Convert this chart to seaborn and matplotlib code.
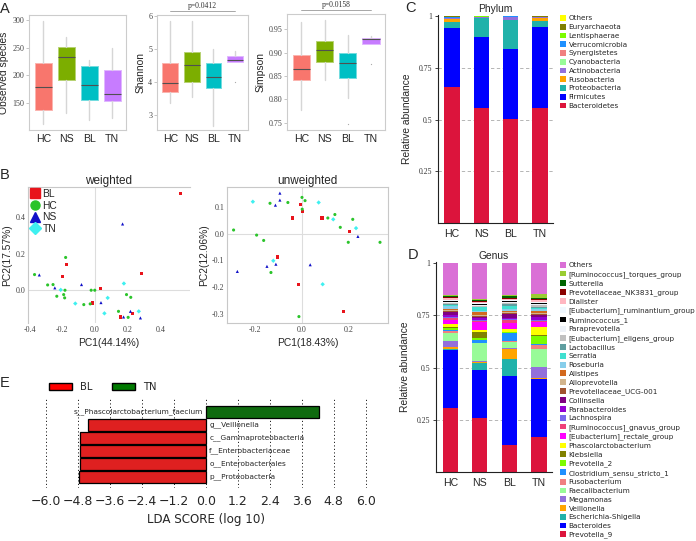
import numpy as np
import pandas as pd
import matplotlib
matplotlib.use('Agg')
import matplotlib.pyplot as plt
import matplotlib.colors as mcolors
from matplotlib.patches import Patch
from matplotlib.lines import Line2D
import seaborn as sns

sns.set_style('white')
plt.rcParams['font.family'] = ['Liberation Sans', 'DejaVu Sans']
SERIF = 'Liberation Serif'

# ---------------- data ----------------
groups = ['HC', 'NS', 'BL', 'TN']
box_colors = ['#F8766D', '#7CAE00', '#00BFC4', '#C77CFF']

obs_low = [112, 132, 119, 123]
obs_q1 = [138, 191, 156, 154]
obs_med = [179, 233, 183, 166]
obs_q3 = [222, 252, 217, 210]
obs_high = [299, 270, 227, 249]
obs_fliers = [[], [], [], []]

shannon_low = [3.38, 3.56, 2.68, 4.60]
shannon_q1 = [3.69, 3.99, 3.81, 4.60]
shannon_med = [3.97, 4.52, 4.14, 4.67]
shannon_q3 = [4.57, 4.92, 4.59, 4.78]
shannon_high = [5.84, 5.84, 5.00, 4.93]
shannon_fliers = [[], [], [], [4.0]]

simpson_low = [0.778, 0.841, 0.802, 0.918]
simpson_q1 = [0.841, 0.880, 0.846, 0.918]
simpson_med = [0.865, 0.906, 0.878, 0.929]
simpson_q3 = [0.896, 0.924, 0.899, 0.932]
simpson_high = [0.966, 0.970, 0.937, 0.935]
simpson_fliers = [[], [], [0.746], [0.875]]

pca_order = ['BL', 'HC', 'NS', 'TN']
pca_colors = {'BL': '#E8141C', 'HC': '#2BC42B', 'NS': '#1010C8', 'TN': '#3FF0F0'}
pca_markers = {'BL': 's', 'HC': 'o', 'NS': '^', 'TN': 'D'}

wt_group = ['BL'] * 8 + ['HC'] * 16 + ['NS'] * 8 + ['TN'] * 6
wt_pc1 = [0.523, -0.176, -0.198, 0.032, 0.281, -0.016, 0.154, 0.226,
          -0.180, -0.370, -0.290, -0.257, -0.184, -0.192, -0.234, -0.186,
          -0.024, -0.002, 0.192, 0.218, -0.069, -0.030, 0.143, 0.202,
          0.168, -0.341, -0.246, -0.083, 0.036, 0.174, 0.216, 0.277,
          -0.210, 0.176, 0.077, -0.121, 0.057, 0.267]
wt_pc2 = [0.533, 0.139, 0.075, 0.011, 0.090, -0.070, -0.147, -0.128,
          0.180, 0.086, 0.029, 0.031, 0.000, -0.024, -0.033, -0.042,
          0.000, 0.000, -0.024, -0.039, -0.079, -0.075, -0.116, -0.149,
          0.364, 0.084, 0.013, 0.031, -0.068, -0.147, -0.116, -0.152,
          0.002, 0.037, -0.042, -0.073, -0.127, -0.116]

uw_group = ['BL'] * 8 + ['HC'] * 16 + ['NS'] * 8 + ['TN'] * 6
uw_pc1 = [-0.006, 0.001, -0.040, 0.085, 0.204, -0.104, -0.013, 0.177,
          -0.136, -0.060, 0.000, 0.013, 0.001, 0.110, 0.140, 0.163,
          0.216, 0.197, 0.332, -0.291, -0.193, -0.163, -0.132, -0.013,
          -0.094, -0.094, -0.113, 0.238, -0.149, -0.111, -0.275, 0.035,
          -0.209, 0.071, 0.133, 0.230, -0.122, 0.088]
uw_pc2 = [0.111, 0.084, 0.059, 0.059, 0.009, -0.087, -0.191, -0.290,
          0.114, 0.117, 0.136, 0.124, 0.092, 0.059, 0.072, 0.024,
          0.054, -0.032, -0.032, 0.014, -0.005, -0.025, -0.145, -0.310,
          0.152, 0.126, 0.107, -0.010, -0.122, -0.114, -0.141, -0.116,
          0.120, 0.117, 0.054, 0.021, -0.101, -0.189]

# stacking order bottom -> top
phylum_names = ['Bacteroidetes', 'Firmicutes', 'Proteobacteria', 'Fusobacteria',
                'Actinobacteria', 'Cyanobacteria', 'Synergistetes', 'Verrucomicrobia',
                'Lentisphaerae', 'Euryarchaeota', 'Others']
phylum_colors = ['#DC143C', '#0000FF', '#20B2AA', '#FFA500', '#9370DB', '#98FB98',
                 '#F08080', '#1E90FF', '#7CFC00', '#808000', '#FFFF00']
phylum_hc = [0.657, 0.286, 0.030, 0.014, 0.003, 0.001, 0.001, 0.001, 0.001, 0.004, 0.002]
phylum_ns = [0.555, 0.343, 0.092, 0.002, 0.002, 0.001, 0.001, 0.001, 0.001, 0.001, 0.001]
phylum_bl = [0.503, 0.340, 0.136, 0.002, 0.014, 0.001, 0.001, 0.001, 0.001, 0.001, 0.000]
phylum_tn = [0.556, 0.393, 0.027, 0.016, 0.002, 0.001, 0.001, 0.001, 0.000, 0.001, 0.002]

genus_names = ['Prevotella_9', 'Bacteroides', 'Escherichia-Shigella', 'Veillonella',
               'Megamonas', 'Faecalibacterium', 'Fusobacterium',
               'Clostridium_sensu_stricto_1', 'Prevotella_2', 'Klebsiella',
               'Phascolarctobacterium', '[Eubacterium]_rectale_group',
               '[Ruminococcus]_gnavus_group', 'Lachnospira', 'Parabacteroides',
               'Collinsella', 'Prevotellaceae_UCG-001', 'Alloprevotella', 'Alistipes',
               'Roseburia', 'Serratia', 'Lactobacillus', '[Eubacterium]_eligens_group',
               'Paraprevotella', 'Ruminococcus_1', '[Eubacterium]_ruminantium_group',
               'Dialister', 'Prevotellaceae_NK3831_group', 'Sutterella',
               '[Ruminococcus]_torques_group', 'Others']
genus_colors = ['#DC143C', '#0000FF', '#20B2AA', '#FFA500', '#9370DB', '#98FB98',
                '#F08080', '#1E90FF', '#7CFC00', '#808000', '#FFFF00', '#FF00FF',
                '#F0407A', '#7B68EE', '#9400D3', '#800080', '#A0522D', '#D2B48C',
                '#D2691E', '#87CEEB', '#40E0D0', '#5F9EA0', '#C0C0C0', '#EEF2F8',
                '#000000', '#F0F8FF', '#FFB6C1', '#8B0000', '#006400', '#9ACD32',
                '#DA70D6']
genus_hc = [0.307, 0.279, 0.005, 0.007, 0.028, 0.037, 0.010, 0.005, 0.012, 0.005,
            0.012, 0.022, 0.008, 0.006, 0.010, 0.012, 0.005, 0.005, 0.006, 0.012,
            0.005, 0.005, 0.006, 0.005, 0.006, 0.005, 0.006, 0.006, 0.007, 0.005, 0.151]
genus_ns = [0.258, 0.232, 0.032, 0.003, 0.005, 0.085, 0.004, 0.014, 0.010, 0.025,
            0.010, 0.040, 0.006, 0.005, 0.008, 0.005, 0.004, 0.004, 0.015, 0.004,
            0.020, 0.003, 0.003, 0.002, 0.008, 0.003, 0.006, 0.003, 0.004, 0.005, 0.174]
genus_bl = [0.131, 0.328, 0.082, 0.048, 0.004, 0.030, 0.005, 0.036, 0.005, 0.003,
            0.012, 0.030, 0.012, 0.004, 0.006, 0.018, 0.006, 0.005, 0.007, 0.006,
            0.018, 0.010, 0.005, 0.004, 0.004, 0.003, 0.004, 0.005, 0.010, 0.005, 0.154]
genus_tn = [0.167, 0.276, 0.004, 0.002, 0.053, 0.087, 0.020, 0.003, 0.041, 0.003,
            0.037, 0.024, 0.006, 0.005, 0.012, 0.010, 0.006, 0.005, 0.010, 0.010,
            0.005, 0.004, 0.008, 0.004, 0.008, 0.004, 0.007, 0.006, 0.008, 0.015, 0.150]

lda_features = ['s__Phascolarctobacterium_faecium', 'g__Veillonella',
                'c__Gammaproteobacteria', 'f__Enterobacteriaceae',
                'o__Enterobacteriales', 'p__Proteobacteria']
lda_scores = [4.26, -4.45, -4.73, -4.73, -4.72, -4.76]
lda_class = ['TN', 'BL', 'BL', 'BL', 'BL', 'BL']

# ---------------- figure ----------------
W, H = 696, 541
fig = plt.figure(figsize=(W / 100, H / 100), dpi=100)


def add_ax(l, t, r, b):
    return fig.add_axes([l / W, 1 - b / H, (r - l) / W, (b - t) / H])


def lighten(c, f=0.45):
    rgb = np.array(mcolors.to_rgb(c))
    return tuple(rgb + (1 - rgb) * f)


def serif_ticks(ax, axis='y'):
    labs = ax.get_yticklabels() if axis == 'y' else ax.get_xticklabels()
    for t in labs:
        t.set_fontfamily(SERIF)


# ---- A: alpha diversity boxes ----
box_specs = [
    ((29, 15, 126, 130), 'Observed species', obs_low, obs_q1, obs_med, obs_q3, obs_high,
     obs_fliers, (101, 309), [150, 200, 250, 300], '%d', None),
    ((157, 15, 248, 130), 'Shannon', shannon_low, shannon_q1, shannon_med, shannon_q3,
     shannon_high, shannon_fliers, (2.55, 6.03), [3, 4, 5, 6], '%d', 'p=0.0412'),
    ((287, 14, 385, 130), 'Simpson', simpson_low, simpson_q1, simpson_med, simpson_q3,
     simpson_high, simpson_fliers, (0.734, 0.983), [0.75, 0.80, 0.85, 0.90, 0.95], '%.2f',
     'p=0.0158'),
]
for rect, ylab, lo, q1, med, q3, hi, fl, ylim, yt, fmt, ptxt in box_specs:
    ax = add_ax(*rect)
    stats = [dict(whislo=a, q1=b, med=c, q3=d, whishi=e, fliers=f)
             for a, b, c, d, e, f in zip(lo, q1, med, q3, hi, fl)]
    bp = ax.bxp(stats, positions=np.arange(4), widths=0.74, patch_artist=True,
                showcaps=False,
                whiskerprops=dict(color='#d6d6d6', lw=1.0),
                medianprops=dict(color='#505050', lw=0.8),
                flierprops=dict(marker='o', ms=0.9, mfc='#aaaaaa', mec='none'),
                boxprops=dict(lw=0.7))
    for patch, c in zip(bp['boxes'], box_colors):
        patch.set_facecolor(c)
        patch.set_edgecolor(lighten(c))
    ax.set_xlim(-0.62, 3.6)
    ax.set_ylim(*ylim)
    ax.set_yticks(yt)
    ax.set_yticklabels([fmt % v for v in yt])
    ax.set_xticks(range(4))
    ax.set_xticklabels(groups)
    ax.tick_params(axis='y', length=2, width=0.6, color='#bbbbbb', labelsize=5.8,
                   labelcolor='#444444', pad=1.5, left=True)
    ax.tick_params(axis='x', length=0, labelsize=7.6, pad=3)
    serif_ticks(ax)
    ax.set_ylabel(ylab, fontsize=7.4, labelpad=2)
    for s in ax.spines.values():
        s.set_color('#cccccc')
        s.set_linewidth(0.8)
    if ptxt:
        tr = ax.get_xaxis_transform()
        ax.plot([0, 3], [1.035, 1.035], transform=tr, clip_on=False, color='#999999', lw=0.6)
        ax.text(1.5, 1.045, ptxt, transform=tr, ha='center', va='bottom', fontsize=5.5,
                family=SERIF, color='#333333')

# ---- B: PCoA ----
pcoa_specs = [
    ((28, 187, 190, 323), 'weighted', wt_group, wt_pc1, wt_pc2, (-0.41, 0.58), (-0.18, 0.567),
     [-0.4, -0.2, 0.0, 0.2, 0.4], [0.0, 0.2, 0.4], 'PC1(44.14%)', 'PC2(17.57%)', True),
    ((227, 187, 388, 323), 'unweighted', uw_group, uw_pc1, uw_pc2, (-0.319, 0.366),
     (-0.334, 0.175), [-0.2, 0.0, 0.2], [-0.3, -0.2, -0.1, 0.0, 0.1], 'PC1(18.43%)',
     'PC2(12.06%)', False),
]
for rect, title, grp, pc1, pc2, xl, yl, xt, yt, xlab, ylab, weighted in pcoa_specs:
    ax = add_ax(*rect)
    ax.axhline(0, color='#dddddd', lw=0.8, zorder=0)
    ax.axvline(0, color='#dddddd', lw=0.8, zorder=0)
    sns.scatterplot(x=pc1, y=pc2, hue=grp, style=grp, hue_order=pca_order,
                    style_order=pca_order, palette=pca_colors, markers=pca_markers,
                    s=5, linewidth=0, legend=False, ax=ax, zorder=3)
    ax.set_xlim(*xl)
    ax.set_ylim(*yl)
    ax.set_xticks(xt)
    ax.set_yticks(yt)
    ax.set_xticklabels(['%.1f' % v for v in xt])
    ax.set_yticklabels(['%.1f' % v for v in yt])
    ax.tick_params(labelsize=5.8, labelcolor='#444444', length=0, pad=2)
    serif_ticks(ax, 'x')
    serif_ticks(ax, 'y')
    ax.set_xlabel(xlab, fontsize=7.4, labelpad=3)
    ax.set_ylabel(ylab, fontsize=7.4, labelpad=2)
    ax.set_title(title, fontsize=8.5, pad=2)
    for side, s in ax.spines.items():
        s.set_color('#c8c8c8')
        s.set_linewidth(0.8)
    if weighted:
        ax.spines['right'].set_visible(False)
        ax.spines['bottom'].set_visible(False)
        handles = [Line2D([], [], ls='', marker=pca_markers[g], color=pca_colors[g],
                          ms=6.5, label=g) for g in pca_order]
        ax.legend(handles=handles, loc='upper left', bbox_to_anchor=(0.02, 0.985),
                  frameon=False, fontsize=7.4, handlelength=0.8, handletextpad=0.3,
                  labelspacing=0.15, borderpad=0, borderaxespad=0)

# ---- C / D: stacked bars ----
x = np.arange(4)
stack_specs = [
    ((438, 15, 553, 223), 'Phylum', phylum_names, phylum_colors,
     [phylum_hc, phylum_ns, phylum_bl, phylum_tn], 15, 0.33),
    ((436, 262, 552, 472), 'Genus', genus_names, genus_colors,
     [genus_hc, genus_ns, genus_bl, genus_tn], 262, 0.325),
]
for rect, title, names, colors, cols, leg_top, lsp in stack_specs:
    ax = add_ax(*rect)
    vals = np.array(cols).T  # taxa x groups
    for yv in [0.25, 0.5, 0.75]:
        ax.axhline(yv, color='#aaaaaa', lw=0.6, ls=(0, (4, 3)), zorder=0)
    bottom = np.zeros(4)
    bars = []
    for name, c, v in zip(names, colors, vals):
        b = ax.bar(x, v, width=0.52, bottom=bottom, color=c, edgecolor='none',
                   label=name, zorder=2)
        bars.append(b)
        bottom += v
    ax.set_xlim(-0.48, 3.44)
    ax.set_ylim(0, 1.005)
    ax.set_yticks([0.25, 0.5, 0.75, 1.0])
    ax.set_yticklabels(['0.25', '0.5', '0.75', '1'])
    ax.set_xticks(x)
    ax.set_xticklabels(groups)
    ax.tick_params(axis='y', length=2.5, width=0.6, color='#222222', labelsize=5.6,
                   labelcolor='#333333', pad=1.5, left=True)
    ax.tick_params(axis='x', length=0, labelsize=7.6, pad=4)
    serif_ticks(ax)
    ax.set_ylabel('Relative abundance', fontsize=7.4, labelpad=5)
    ax.set_title(title, fontsize=7.4, pad=2)
    sns.despine(ax=ax)
    ax.spines['left'].set_color('#222222')
    ax.spines['bottom'].set_color('#222222')
    ax.spines['left'].set_linewidth(0.8)
    ax.spines['bottom'].set_linewidth(0.8)
    fig.legend(handles=bars[::-1], labels=names[::-1], loc='upper left',
               bbox_to_anchor=(560 / W, 1 - leg_top / H), frameon=False,
               prop=dict(family='DejaVu Sans', size=5.2), handlelength=0.85,
               handleheight=0.85, handletextpad=0.35, labelspacing=lsp,
               borderpad=0, borderaxespad=0)

# ---- E: LEfSe ----
ax = add_ax(41, 398, 371, 488)
lda = pd.DataFrame({'feature': lda_features, 'score': lda_scores, 'cls': lda_class})
sns.barplot(data=lda, x='score', y='feature', hue='cls', palette={'BL': '#FF0000', 'TN': '#007A00'},
            dodge=False, orient='h', width=0.86, edgecolor='black', linewidth=0.9,
            legend=False, ax=ax, zorder=2)
ticks = np.round(np.arange(-6.0, 6.01, 1.2), 1)
ax.set_xticks(ticks)
ax.set_xticklabels([('%.1f' % (t + 0.0)).replace('-', '\u2212') for t in ticks])
ax.set_xlim(-6.2, 6.2)
ax.set_ylim(5.85, -1.08)
ax.set_yticks([])
ax.set_ylabel('')
ax.grid(axis='x', color='#222222', ls=(0, (1.2, 2.4)), lw=0.7)
ax.set_axisbelow(True)
for s in ax.spines.values():
    s.set_visible(False)
ax.tick_params(axis='x', length=0, labelsize=9, pad=5)
for t in ax.get_xticklabels():
    t.set_fontfamily('DejaVu Sans')
ax.set_xlabel('LDA SCORE (log 10)', fontsize=8.6, family='DejaVu Sans', labelpad=4)
for i, (f, s) in enumerate(zip(lda_features, lda_scores)):
    if s < 0:
        ax.text(0.12, i, f, ha='left', va='center', fontsize=5.3, family='DejaVu Sans')
    else:
        ax.text(-0.12, i, f, ha='right', va='center', fontsize=5.3, family='DejaVu Sans')
fig.legend(handles=[Patch(facecolor='#FF0000', edgecolor='black', label='BL'),
                    Patch(facecolor='#007A00', edgecolor='black', label='TN')],
           loc='center left', bbox_to_anchor=(49 / W, 1 - 387 / H), ncol=2, frameon=False,
           prop=dict(family='DejaVu Sans', size=7.2), handlelength=2.3, handleheight=0.75,
           handletextpad=0.8, columnspacing=2.0, borderpad=0, borderaxespad=0)

# ---- panel letters ----
for txt, px, py in [('A', 5, 9), ('B', 5, 175), ('C', 410, 8), ('D', 413, 255), ('E', 5, 383)]:
    fig.text(px / W, 1 - py / H, txt, fontsize=10.5, ha='center', va='center')

fig.savefig('out.png', dpi=100)
